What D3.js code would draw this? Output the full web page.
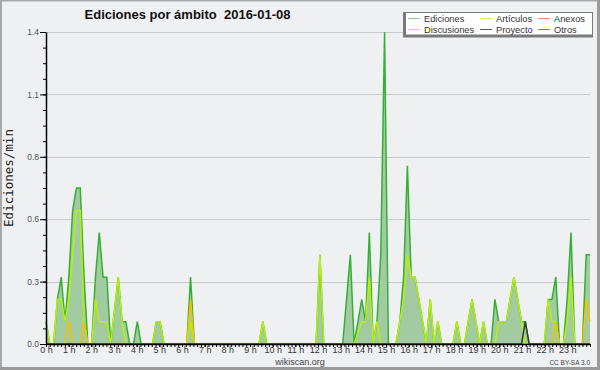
<!DOCTYPE html>
<html><head><meta charset="utf-8">
<script src="https://cdn.jsdelivr.net/npm/d3@7"></script>
<style>body{margin:0;background:#fff}svg{display:block}</style>
</head><body>
<svg id="c" width="600" height="370"></svg>
<script>
// ---- data (10-minute bins, edits per minute) ----
const hourLabels = ["0 h","1 h","2 h","3 h","4 h","5 h","6 h","7 h","8 h","9 h","10 h","11 h",
  "12 h","13 h","14 h","15 h","16 h","17 h","18 h","19 h","20 h","21 h","22 h","23 h"];
const yTickValues = [0, 0.28, 0.56, 0.84, 1.12, 1.4];
const yTickLabels = ["0.0","0.3","0.6","0.8","1.1","1.4"];
const seriesNames = ["Ediciones","Artículos","Anexos","Discusiones","Proyecto","Otros"];

const ediciones = [
  0.1,0,0,0.2,0.3,0.1,0.3,0.6,0.7,0.7,0.3,0,
  0,0.3,0.5,0.3,0.3,0,0.15,0.3,0.1,0.1,0,0,
  0.1,0,0,0,0,0.1,0.1,0,0,0,0,0,
  0,0,0.3,0,0,0,0,0,0,0,0,0,
  0,0,0,0,0,0,0,0,0,0.1,0,0,
  0,0,0,0,0,0,0,0,0,0,0,0,
  0.4,0,0,0,0,0,0,0.2,0.4,0,0.1,0.2,
  0.1,0.5,0,0.1,0.4,1.4,0,0,0,0.1,0.3,0.8,
  0.3,0.3,0.2,0.1,0,0.2,0,0.1,0,0,0,0,
  0.1,0,0,0.1,0.2,0.1,0,0.1,0,0,0.2,0.1,
  0.1,0.1,0.2,0.3,0.2,0.1,0.1,0,0,0,0,0,
  0.2,0.2,0.3,0,0,0.2,0.5,0,0,0,0.4,0.4];
const articulos = [
  0.1,0,0,0.2,0.2,0.1,0.2,0.4,0.6,0.6,0.1,0,
  0,0.2,0.1,0.1,0.1,0,0.15,0.3,0.1,0,0,0,
  0,0,0,0,0,0.1,0.1,0,0,0,0,0,
  0,0,0.1,0,0,0,0,0,0,0,0,0,
  0,0,0,0,0,0,0,0,0,0.1,0,0,
  0,0,0,0,0,0,0,0,0,0,0,0,
  0.4,0,0,0,0,0,0,0,0,0,0.05,0.1,
  0.1,0.3,0,0.1,0,0,0,0,0,0.1,0.2,0.4,
  0.3,0.3,0.2,0.1,0,0.2,0,0.1,0,0,0,0,
  0.1,0,0,0.1,0.2,0.1,0,0.1,0,0,0,0.1,
  0.1,0.1,0.2,0.3,0.2,0.1,0,0,0,0,0,0,
  0.2,0.1,0.1,0,0,0.1,0.3,0,0,0,0,0];
const anexos = [
  0,0,0,0,0,0,0,0,0,0,0,0, 0,0,0,0,0,0,0,0,0,0,0,0,
  0,0,0,0,0,0,0,0,0,0,0,0, 0,0,0,0,0,0,0,0,0,0,0,0,
  0,0,0,0,0,0,0,0,0,0,0,0, 0,0,0,0,0,0,0,0,0,0,0,0,
  0,0,0,0,0,0,0,0,0,0,0,0, 0,0,0,0,0,0,0,0,0,0,0,0,
  0,0,0,0,0,0,0,0,0,0,0,0, 0,0,0,0,0,0,0,0,0,0,0,0,
  0,0,0,0,0,0,0,0,0,0,0,0, 0,0,0,0,0,0,0,0,0,0,0,0];
const discusiones = [
  0,0,0,0,0,0,0.1,0,0,0,0.1,0, 0,0,0,0,0,0,0,0,0,0,0,0,
  0,0,0,0,0,0,0,0,0,0,0,0, 0,0,0.2,0,0,0,0,0,0,0,0,0,
  0,0,0,0,0,0,0,0,0,0,0,0, 0,0,0,0,0,0,0,0,0,0,0,0,
  0,0,0,0,0,0,0,0,0,0,0,0, 0,0,0,0,0,0,0,0,0,0,0,0,
  0,0,0,0,0,0,0,0,0,0,0,0, 0,0,0,0,0,0,0,0,0,0,0,0,
  0,0,0,0,0,0,0,0,0,0,0,0, 0,0,0.1,0,0,0,0,0,0,0,0.2,0.1];
const proyecto = [
  0,0,0,0,0,0,0,0,0,0,0,0, 0,0,0,0,0,0,0,0,0,0,0,0,
  0,0,0,0,0,0,0,0,0,0,0,0, 0,0,0,0,0,0,0,0,0,0,0,0,
  0,0,0,0,0,0,0,0,0,0,0,0, 0,0,0,0,0,0,0,0,0,0,0,0,
  0,0,0,0,0,0,0,0,0,0,0,0, 0,0,0,0,0,0,0,0,0,0,0,0,
  0,0,0,0,0,0,0,0,0,0,0,0, 0,0,0,0,0,0,0,0,0,0,0,0,
  0,0,0,0,0,0,0.1,0,0,0,0,0, 0,0,0,0,0,0,0,0,0,0,0,0];
const otros = [
  0,0,0,0,0,0,0,0,0,0,0,0, 0,0,0,0,0,0,0,0,0,0,0,0,
  0,0,0,0,0,0,0,0,0,0,0,0, 0,0,0,0,0,0,0,0,0,0,0,0,
  0,0,0,0,0,0,0,0,0,0,0,0, 0,0,0,0,0,0,0,0,0,0,0,0,
  0,0,0,0,0,0,0,0,0,0,0,0, 0,0,0,0,0,0,0,0,0,0,0,0,
  0,0,0,0,0,0,0,0,0,0,0,0, 0,0,0,0,0,0,0,0,0,0,0,0,
  0,0,0,0,0,0,0,0,0,0,0,0, 0,0,0,0,0,0,0,0,0,0,0,0];

// ---- drawing ----
const L = 46, R = 590, T = 32, B = 344;
const SANS = "'Liberation Sans', Arial, sans-serif";
const svg = d3.select("#c");

svg.append("rect").attr("width", 600).attr("height", 370).attr("fill", "#eff0f2");
// frame
svg.append("rect").attr("x", 1).attr("y", 0.5).attr("width", 597).attr("height", 367.5)
  .attr("fill", "none").attr("stroke", "#a8a8a8").attr("stroke-width", 2);
svg.append("line").attr("x1", 598.5).attr("x2", 598.5).attr("y1", 0).attr("y2", 370).attr("stroke", "#9a9a9a").attr("stroke-width", 3);
svg.append("line").attr("x1", 0).attr("x2", 600).attr("y1", 368.5).attr("y2", 368.5).attr("stroke", "#9a9a9a").attr("stroke-width", 3);

const x = d3.scaleLinear().domain([0, ediciones.length - 1]).range([L, R]);
const xh = d3.scaleLinear().domain([0, 24]).range([L, R]);
const y = d3.scaleLinear().domain([0, 1.4]).range([B, T]);

// grid
svg.append("g").selectAll("line").data(yTickValues).join("line")
  .attr("x1", L).attr("x2", R)
  .attr("y1", d => Math.round(y(d)) + 0.5).attr("y2", d => Math.round(y(d)) + 0.5)
  .attr("stroke", "#cacaca").attr("stroke-width", 1);

// area of total edits
const area = d3.area().x((d, i) => x(i)).y0(y(0)).y1(d => y(d));
svg.append("path").datum(ediciones).attr("d", area).attr("fill", "#a2cba2");

const line = d3.line().x((d, i) => x(i)).y(d => y(d));
const series = [
  {name: "Ediciones", values: ediciones, color: "#35b035", legend: "#86d486"},
  {name: "Anexos", values: anexos, color: "#ff7744", legend: "#ff8855"},
  {name: "Otros", values: otros, color: "#9944ee", legend: "#9955ee"},
  {name: "Artículos", values: articulos, color: "#b8ee10", legend: "#d2f060"},
  {name: "Discusiones", values: discusiones, color: "#f2c200", legend: "#ffcc44"},
  {name: "Proyecto", values: proyecto, color: "#2e3e2e", legend: "#5a5a5a"}
];
svg.append("g").selectAll("path").data(series).join("path")
  .attr("d", d => line(d.values))
  .attr("fill", "none").attr("stroke", d => d.color)
  .attr("stroke-width", 1.5).attr("stroke-linejoin", "miter");

// y axis
const yAxis = svg.append("g").attr("transform", `translate(${L},0)`)
  .call(d3.axisLeft(y).tickValues(yTickValues).tickFormat((d, i) => yTickLabels[i])
    .tickSizeInner(6).tickSizeOuter(0).tickPadding(1));
yAxis.select(".domain").attr("stroke", "#000").attr("stroke-width", 1.5);
yAxis.selectAll(".tick line").attr("stroke", "#000");
yAxis.selectAll("text").attr("font-family", SANS).attr("font-size", 8.5).attr("fill", "#555");
const yMinor = svg.append("g").attr("transform", `translate(${L},0)`)
  .call(d3.axisLeft(y).tickValues(d3.range(0, 1.4001, 0.07)).tickFormat("").tickSizeInner(3).tickSizeOuter(0));
yMinor.select(".domain").remove();
yMinor.selectAll(".tick line").attr("stroke", "#000");

// x axis
const xMinor = svg.append("g").attr("transform", `translate(0,${B})`)
  .call(d3.axisBottom(xh).tickValues(d3.range(0, 24.001, 1 / 6)).tickFormat("").tickSizeInner(3).tickSizeOuter(0));
xMinor.select(".domain").remove();
xMinor.selectAll(".tick line").attr("stroke", "#000");
const xAxis = svg.append("g").attr("transform", `translate(0,${B})`)
  .call(d3.axisBottom(xh).tickValues(d3.range(0, 24)).tickFormat((d, i) => hourLabels[i])
    .tickSizeInner(3).tickSizeOuter(0).tickPadding(0));
xAxis.select(".domain").attr("stroke", "#000").attr("stroke-width", 1.5);
xAxis.selectAll(".tick line").attr("stroke", "#000");
xAxis.selectAll("text").attr("font-family", SANS).attr("font-size", 9).attr("fill", "#333");

// title
svg.append("text").attr("x", 187.5).attr("y", 18.5).attr("text-anchor", "middle")
  .attr("font-family", SANS).attr("font-weight", "bold").attr("font-size", 13).attr("fill", "#111")
  .attr("xml:space", "preserve").text("Ediciones por ámbito  2016-01-08");

// y label
svg.append("text").attr("transform", "translate(13,178) rotate(-90)").attr("text-anchor", "middle")
  .attr("font-family", "'DejaVu Sans Mono', monospace").attr("font-size", 12.5).attr("fill", "#222")
  .text("Ediciones/min");

// footer
svg.append("text").attr("x", 300).attr("y", 365).attr("text-anchor", "middle")
  .attr("font-family", SANS).attr("font-size", 9).attr("fill", "#444").text("wikiscan.org");
svg.append("text").attr("x", 590).attr("y", 364.5).attr("text-anchor", "end")
  .attr("font-family", SANS).attr("font-size", 6.5).attr("fill", "#444").text("CC BY-SA 3.0");

// legend
svg.append("rect").attr("x", 403).attr("y", 12).attr("width", 190).attr("height", 25.5).attr("fill", "#7a7a7a");
svg.append("rect").attr("x", 406).attr("y", 13).attr("width", 186).attr("height", 21.5).attr("fill", "#ffffff");
const legendPos = {
  "Ediciones": [408, 18.5, 21.8], "Artículos": [480, 18.5, 21.8], "Anexos": [538, 18.5, 21.8],
  "Discusiones": [408, 29.5, 33], "Proyecto": [480, 29.5, 32.6], "Otros": [538, 29.5, 33]
};
const lg = svg.append("g").selectAll("g").data(seriesNames.map(n => series.find(s => s.name === n))).join("g");
lg.append("line").attr("x1", d => legendPos[d.name][0]).attr("x2", d => legendPos[d.name][0] + 12)
  .attr("y1", d => legendPos[d.name][1]).attr("y2", d => legendPos[d.name][1])
  .attr("stroke", d => d.legend).attr("stroke-width", 1);
lg.append("text").attr("x", d => legendPos[d.name][0] + 16).attr("y", d => legendPos[d.name][2])
  .attr("font-family", SANS).attr("font-size", 9.3).attr("fill", "#333").text(d => d.name);
</script>
</body></html>
